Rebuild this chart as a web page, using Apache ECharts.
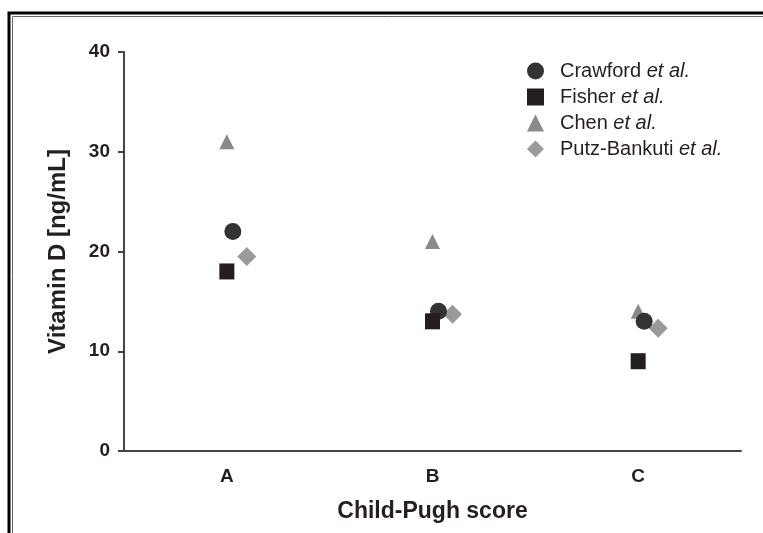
<!DOCTYPE html>
<html>
<head>
<meta charset="utf-8">
<script src="https://cdn.jsdelivr.net/npm/echarts@6/dist/echarts.min.js"></script>
<style>
html,body{margin:0;padding:0;background:#fff;}
#c{width:763px;height:533px;}
</style>
</head>
<body>
<div id="c"></div>
<script>
const categories = ['A', 'B', 'C'];
const crawford = [22, 14, 13];
const fisher = [18, 13, 9];
const chen = [31, 21, 14];
const putz = [19.5, 13.7, 12.3];
const seriesNames = ['Crawford', 'Fisher', 'Chen', 'Putz-Bankuti'];
const yTicks = [0, 10, 20, 30, 40];

const chart = echarts.init(document.getElementById('c'), null, {renderer: 'canvas'});
const font = '"Liberation Sans", Arial, sans-serif';
const txt = '#231f20';
const option = {
  backgroundColor: '#fff',
  animation: false,
  graphic: [
    {type: 'rect', shape: {x: 9, y: 13, width: 800, height: 600}, style: {fill: 'none', stroke: '#000', lineWidth: 3}, silent: true},
    {type: 'rect', shape: {x: 12.5, y: 16.5, width: 800, height: 600}, style: {fill: 'none', stroke: '#666', lineWidth: 1}, silent: true}
  ],
  grid: {left: 124, right: 22, top: 52, bottom: 82},
  legend: {
    orient: 'vertical',
    left: 527,
    top: 61,
    padding: 0,
    itemGap: 6,
    itemWidth: 17,
    itemHeight: 17,
    data: seriesNames,
    formatter: function (n) { return '{n|' + n + ' }{i|et al.}'; },
    textStyle: {
      fontFamily: font, fontSize: 20, color: txt, padding: [0, 0, 0, 11],
      rich: {
        n: {fontFamily: font, fontSize: 20, color: txt},
        i: {fontFamily: font, fontSize: 20, color: txt, fontStyle: 'italic'}
      }
    }
  },
  xAxis: {
    type: 'category',
    data: categories,
    boundaryGap: true,
    name: 'Child-Pugh score',
    nameLocation: 'middle',
    nameGap: 49,
    nameTextStyle: {fontFamily: font, fontSize: 23, fontWeight: 'bold', color: txt},
    axisLine: {lineStyle: {color: '#444', width: 2}},
    axisTick: {alignWithLabel: true, length: 6, lineStyle: {color: '#444', width: 2}},
    axisLabel: {fontFamily: font, fontSize: 19, fontWeight: 'bold', color: txt, margin: 16},
    splitLine: {show: false}
  },
  yAxis: {
    type: 'value',
    min: yTicks[0],
    max: yTicks[yTicks.length - 1],
    interval: 10,
    name: 'Vitamin D [ng/mL]',
    nameLocation: 'middle',
    nameRotate: 90,
    nameGap: 54,
    nameTextStyle: {fontFamily: font, fontSize: 24, fontWeight: 'bold', color: txt},
    axisLine: {show: true, lineStyle: {color: '#444', width: 2}},
    axisTick: {show: true, length: 6, lineStyle: {color: '#444', width: 2}},
    axisLabel: {fontFamily: font, fontSize: 19, fontWeight: 'bold', color: txt, margin: 14},
    splitLine: {show: false}
  },
  series: [
    {name: seriesNames[0], type: 'scatter', data: crawford, symbol: 'circle', symbolSize: 17, symbolOffset: [6, 0], itemStyle: {color: '#333333', opacity: 1}, z: 3},
    {name: seriesNames[1], type: 'scatter', data: fisher, symbol: 'rect', symbolSize: [15, 16], itemStyle: {color: '#231f20', opacity: 1}, z: 4},
    {name: seriesNames[2], type: 'scatter', data: chen, symbol: 'triangle', symbolSize: [15, 15], itemStyle: {color: '#8a8a8a', opacity: 1}, z: 2},
    {name: seriesNames[3], type: 'scatter', data: putz, symbol: 'diamond', symbolSize: 19, symbolOffset: [20, 0], itemStyle: {color: '#9a9a9a', opacity: 1}, z: 2}
  ]
};
chart.setOption(option);
</script>
</body>
</html>
